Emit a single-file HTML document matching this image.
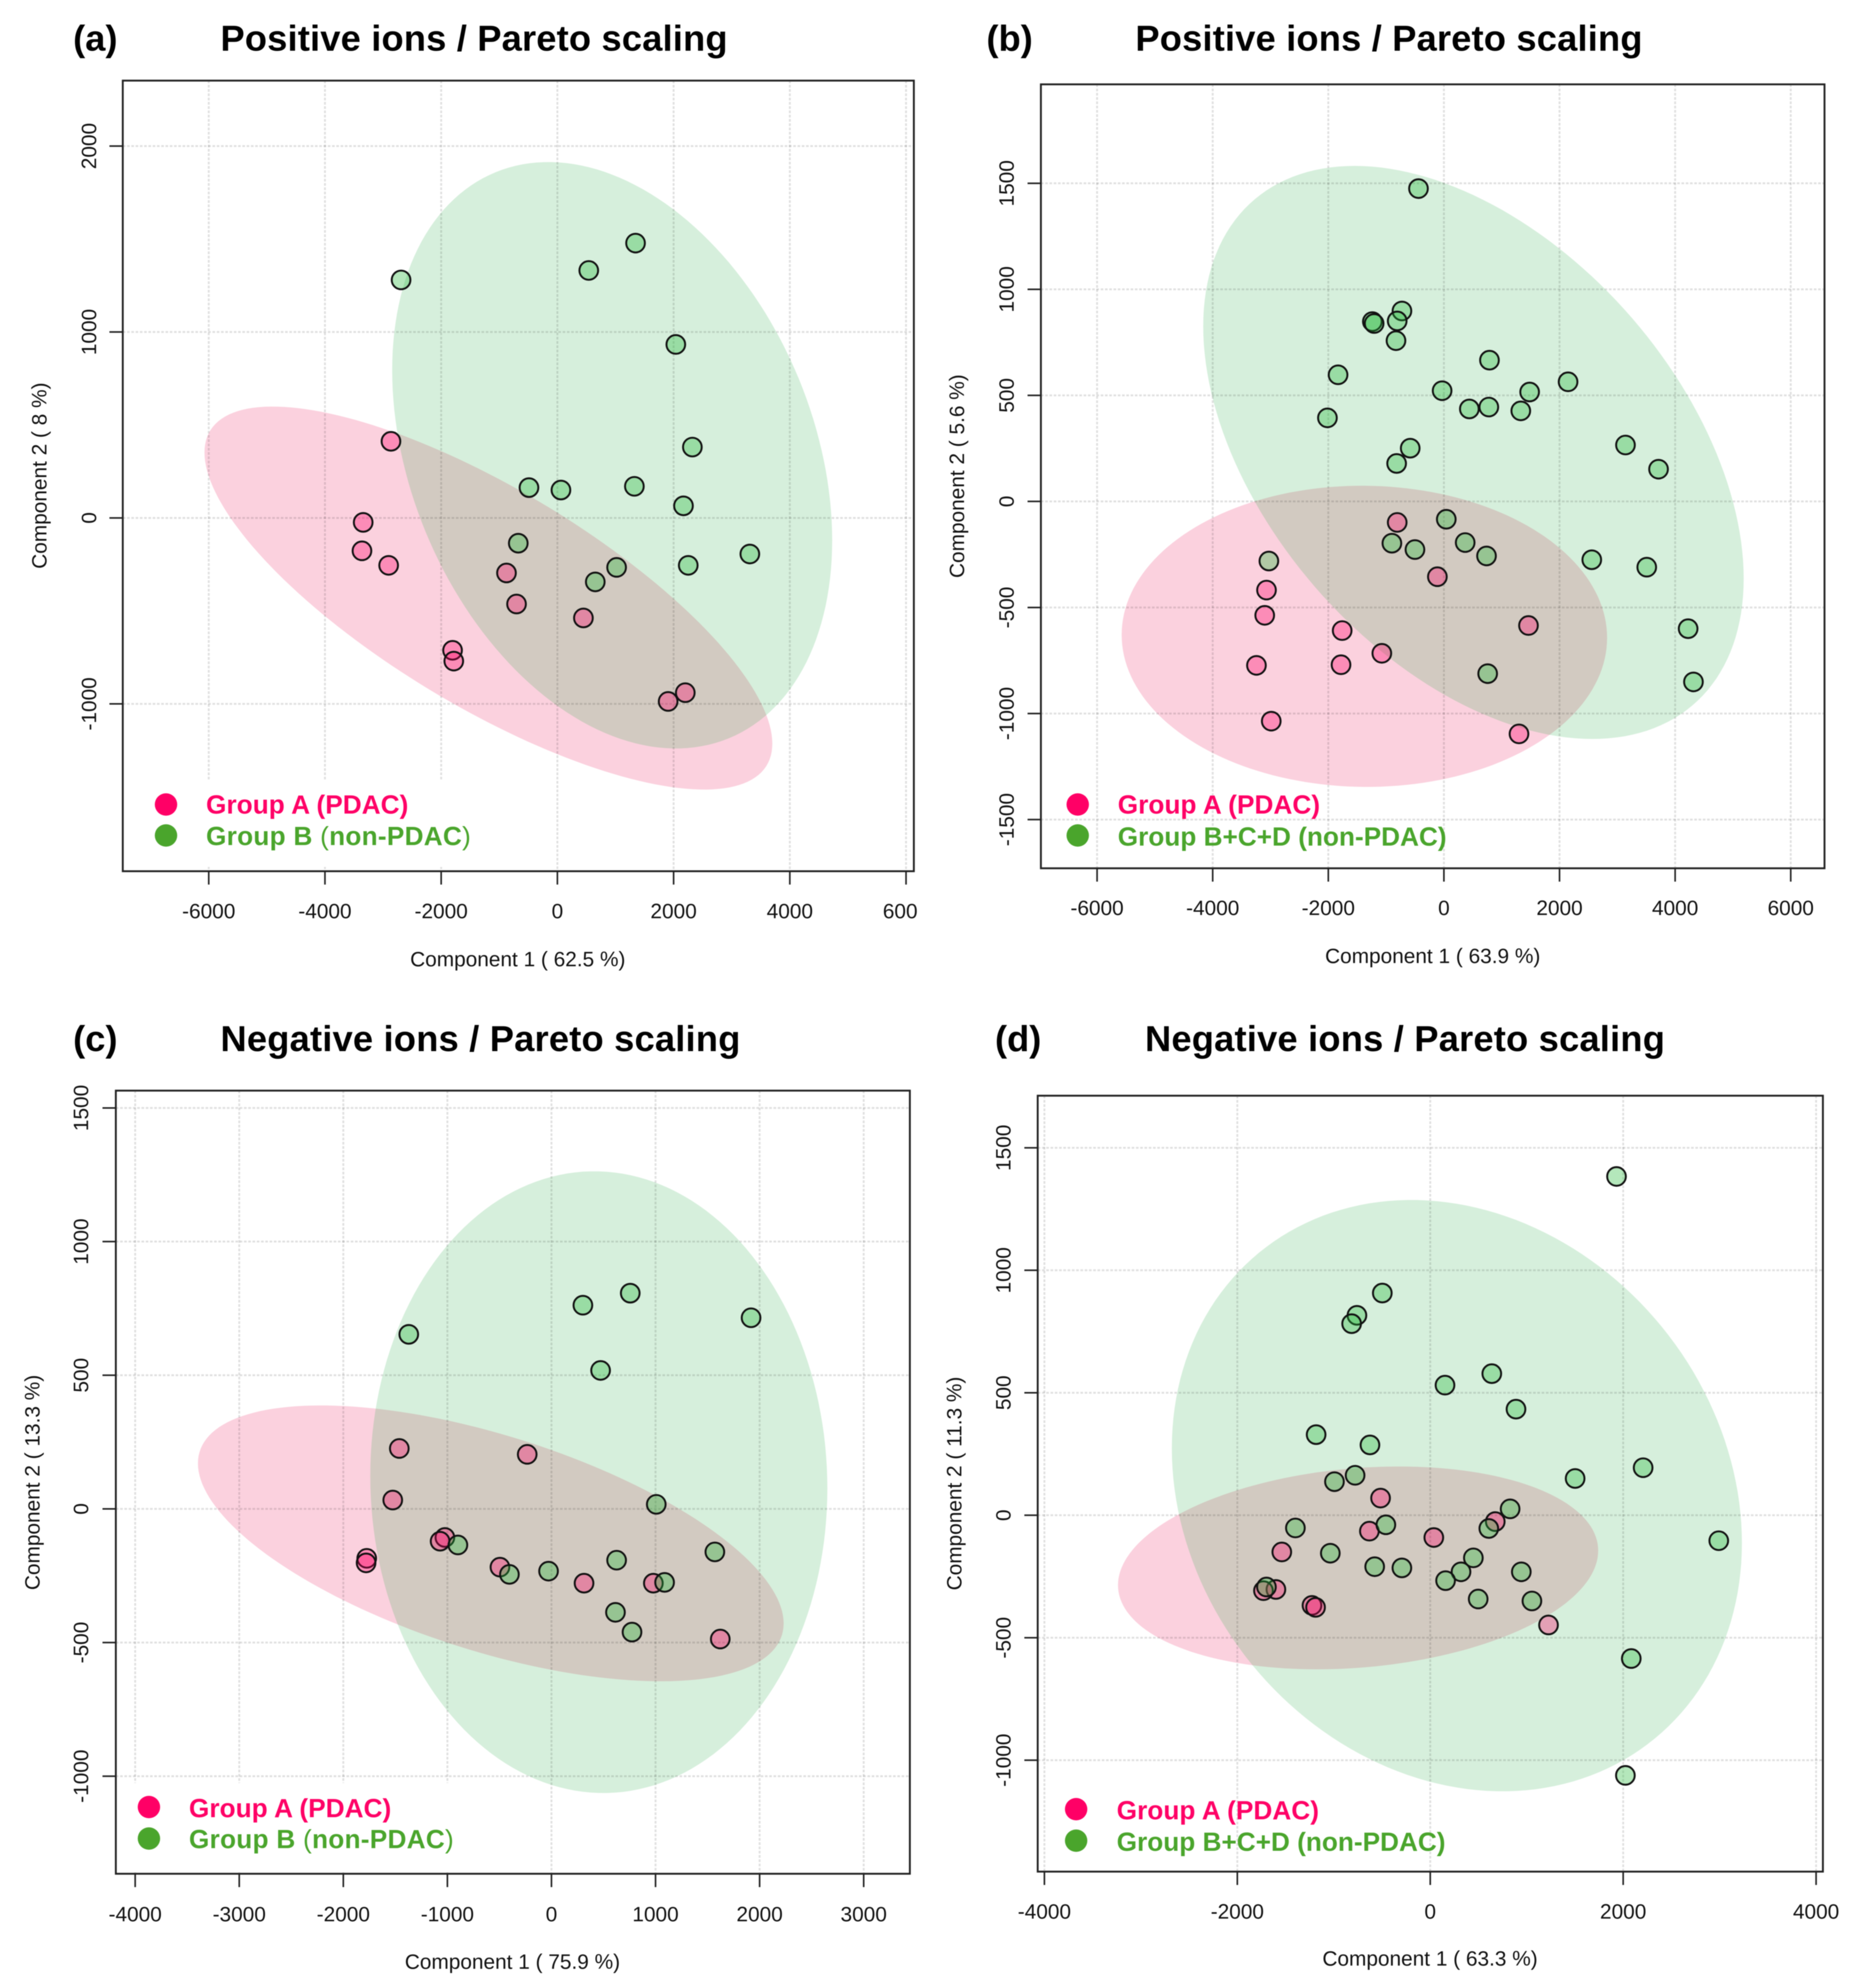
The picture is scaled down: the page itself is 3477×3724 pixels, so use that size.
<!DOCTYPE html>
<html lang="en">
<head>
<meta charset="utf-8">
<title>PCA score plots – Pareto scaling</title>
<style>
html,body{margin:0;padding:0;background:#fff;}
svg{display:block;filter:blur(0.8px);}
text{font-family:"Liberation Sans",sans-serif;fill:#111;}
.title{font-size:68px;font-weight:700;fill:#000;}
.tick{font-size:39px;}
.axis-title{font-size:39px;text-anchor:middle;}
.legend{font-size:49px;font-weight:700;}
.pink{fill:#ff0066;}
.green{fill:#4aa52c;}
.thin{font-weight:400;}
</style>
</head>
<body>
<svg xmlns="http://www.w3.org/2000/svg" width="3477" height="3724" viewBox="0 0 3477 3724">
<rect width="3477" height="3724" fill="#fff"/>

<g>
  <text class="title" x="137" y="95">(a)</text>
  <text class="title" x="413" y="95" textLength="950">Positive ions / Pareto scaling</text>
  <g id="plot-a"></g>
  <rect x="233" y="1461" width="700" height="163" fill="#fff"/>
  <circle cx="311" cy="1507" r="21" fill="#ff0066"/>
  <circle cx="311" cy="1565" r="21" fill="#4aa52c"/>
  <text class="legend pink" x="386" y="1524" textLength="379">Group A (PDAC)</text>
  <text class="legend green" x="386" y="1583" textLength="496">Group B <tspan class="thin">(</tspan>non-PDAC<tspan class="thin">)</tspan></text>
  <text class="axis-title" x="970" y="1810">Component 1 ( 62.5 %)</text>
  <text class="axis-title" transform="translate(87,891) rotate(-90)">Component 2 ( 8 %)</text>
</g>

<g>
  <text class="title" x="1848" y="95">(b)</text>
  <text class="title" x="2127" y="95" textLength="950">Positive ions / Pareto scaling</text>
  <g id="plot-b"></g>
  <circle cx="2019" cy="1507" r="21" fill="#ff0066"/>
  <circle cx="2019" cy="1565" r="21" fill="#4aa52c"/>
  <text class="legend pink" x="2094" y="1524" textLength="379">Group A (PDAC)</text>
  <text class="legend green" x="2094" y="1584" textLength="616">Group B+C+D (non-PDAC)</text>
  <text class="axis-title" x="2684" y="1804">Component 1 ( 63.9 %)</text>
  <text class="axis-title" transform="translate(1806,892) rotate(-90)">Component 2 ( 5.6 %)</text>
</g>

<g>
  <text class="title" x="137" y="1969">(c)</text>
  <text class="title" x="413" y="1969" textLength="974">Negative ions / Pareto scaling</text>
  <g id="plot-c"></g>
  <rect x="220" y="3340" width="700" height="167" fill="#fff"/>
  <circle cx="279" cy="3385" r="21" fill="#ff0066"/>
  <circle cx="279" cy="3444" r="21" fill="#4aa52c"/>
  <text class="legend pink" x="354" y="3404" textLength="379">Group A (PDAC)</text>
  <text class="legend green" x="354" y="3462" textLength="496">Group B <tspan class="thin">(</tspan>non-PDAC<tspan class="thin">)</tspan></text>
  <text class="axis-title" x="960" y="3688">Component 1 ( 75.9 %)</text>
  <text class="axis-title" transform="translate(74,2777) rotate(-90)">Component 2 ( 13.3 %)</text>
</g>

<g>
  <text class="title" x="1864" y="1969">(d)</text>
  <text class="title" x="2145" y="1969" textLength="974">Negative ions / Pareto scaling</text>
  <g id="plot-d"></g>
  <circle cx="2016" cy="3389" r="21" fill="#ff0066"/>
  <circle cx="2016" cy="3448" r="21" fill="#4aa52c"/>
  <text class="legend pink" x="2092" y="3408" textLength="379">Group A (PDAC)</text>
  <text class="legend green" x="2092" y="3467" textLength="616">Group B+C+D (non-PDAC)</text>
  <text class="axis-title" x="2679" y="3682">Component 1 ( 63.3 %)</text>
  <text class="axis-title" transform="translate(1801,2779) rotate(-90)">Component 2 ( 11.3 %)</text>
</g>
</svg>

<script>
// ---------- Panel (a) data ----------
const aXTicks = [-6000, -4000, -2000, 0, 2000, 4000, 6000];
const aYTicks = [-1000, 0, 1000, 2000];
const aXTickLabels = ['-6000', '-4000', '-2000', '0', '2000', '4000', '600'];
const aYTickLabels = ['-1000', '0', '1000', '2000'];
const aGroupAX = [-2864, -3342, -3363, -2904, -876, -703, 448, -1804, -1783, 1906, 2201];
const aGroupAY = [412, -24, -177, -255, -296, -463, -538, -712, -770, -987, -940];
const aGroupBX = [-2690, 540, 1345, 2038, 2323, -489, 61, 1325, 2170, -673, 3312, 2252, 1019, 652];
const aGroupBY = [1280, 1331, 1478, 933, 381, 163, 150, 170, 65, -136, -194, -255, -266, -344];
// ellipse: centre x, centre y, half-range x, half-range y, correlation
const aEllipseA = [-1187, -431, 4886, 1030, -0.76];
const aEllipseB = [943, 337, 3786, 1577, -0.29];

// ---------- Panel (b) data ----------
const bXTicks = [-6000, -4000, -2000, 0, 2000, 4000, 6000];
const bYTicks = [-1500, -1000, -500, 0, 500, 1000, 1500];
const bXTickLabels = ['-6000', '-4000', '-2000', '0', '2000', '4000', '6000'];
const bYTickLabels = ['-1500', '-1000', '-500', '0', '500', '1000', '1500'];
const bGroupAX = [-808, -113, -3069, -3100, -1760, 1463, -1074, -3243, -1780, -2987, 1299];
const bGroupAY = [-99, -355, -418, -537, -609, -585, -716, -773, -770, -1036, -1096];
const bGroupBX = [-440, -726, -1238, -1207, -808, -829, -1831, 788, -31, 1483, 2148, 440, 777, 1330, -2015, -583, -818, 3141, 3713, 41, 368, -900, -501, 737, -3028, 2558, 3509, 4225, 4317, 757];
const bGroupBY = [1475, 898, 848, 839, 851, 758, 597, 666, 522, 516, 564, 436, 445, 427, 394, 251, 179, 266, 152, -84, -194, -197, -227, -257, -281, -275, -310, -600, -851, -812];
const bEllipseA = [-1376, -636, 4199, 710, -0.01];
const bEllipseB = [511, 231, 4675, 1351, -0.44];

// ---------- Panel (c) data ----------
const cXTicks = [-4000, -3000, -2000, -1000, 0, 1000, 2000, 3000];
const cYTicks = [-1000, -500, 0, 500, 1000, 1500];
const cXTickLabels = ['-4000', '-3000', '-2000', '-1000', '0', '1000', '2000', '3000'];
const cYTickLabels = ['-1000', '-500', '0', '500', '1000', '1500'];
const cGroupAX = [-1462, -233, -1525, -1024, -1070, -1775, -1781, -495, 313, 979, 1622];
const cGroupAY = [226, 204, 33, -107, -121, -185, -202, -218, -278, -278, -487];
const cGroupBX = [-1371, 302, 757, 1918, 472, 1007, -899, -404, -28, 626, 1570, 1087, 615, 774];
const cGroupBY = [653, 762, 807, 715, 518, 17, -135, -245, -233, -192, -161, -275, -387, -461];
const cEllipseA = [-583, -129, 2814, 516, -0.58];
const cEllipseB = [455, 100, 2196, 1163, -0.02];

// ---------- Panel (d) data ----------
const dXTicks = [-4000, -2000, 0, 2000, 4000];
const dYTicks = [-1000, -500, 0, 500, 1000, 1500];
const dXTickLabels = ['-4000', '-2000', '0', '2000', '4000'];
const dYTickLabels = ['-1000', '-500', '0', '500', '1000', '1500'];
const dGroupAX = [-515, -631, 37, 674, -1539, -1600, -1729, -1226, -1189, 1226];
const dGroupAY = [70, -65, -91, -26, -150, -303, -308, -368, -376, -448];
const dGroupBX = [1931, -497, -760, -815, 638, 153, 889, -1183, -625, -779, -993, 1502, 2207, 828, 607, -460, -1398, -1036, -576, -294, 447, 319, 159, 944, 497, 1054, -1698, 2991, 2084, 2023];
const dGroupBY = [1383, 907, 816, 782, 578, 531, 433, 329, 287, 163, 137, 150, 194, 26, -54, -39, -52, -155, -210, -215, -174, -231, -267, -231, -342, -350, -293, -104, -585, -1062];
const dEllipseA = [-748, -215, 2489, 414, 0.17];
const dEllipseB = [276, 80, 2955, 1207, -0.16];

// ---------- Rendering ----------
const SVG_NS = 'http://www.w3.org/2000/svg';
function make(parent, tag, attrs, text) {
  const node = document.createElementNS(SVG_NS, tag);
  for (const k in attrs) node.setAttribute(k, attrs[k]);
  if (text !== undefined) node.textContent = text;
  parent.appendChild(node);
  return node;
}

function drawPanel(id, frame, xTicks, xLabels, yTicks, yLabels, ellA, ellB, ax, ay, bx, by) {
  const root = document.getElementById('plot-' + id);
  const xScale = function (v) { return frame.x0 + v * frame.kx; };
  const yScale = function (v) { return frame.y0 - v * frame.ky; };

  function ellipsePath(p) {
    const phi = Math.acos(p[4]);
    let d = '';
    for (let i = 0; i < 180; i++) {
      const t = i / 180 * 2 * Math.PI;
      const px = xScale(p[0] + p[2] * Math.cos(t));
      const py = yScale(p[1] + p[3] * Math.cos(t + phi));
      d += (i ? 'L' : 'M') + px.toFixed(1) + ' ' + py.toFixed(1);
    }
    return d + 'Z';
  }

  const pinkEllipse = make(root, 'path', { d: ellipsePath(ellA), fill: 'rgba(232,10,80,0.19)' });
  
  
  const greenEllipse = make(root, 'path', { d: ellipsePath(ellB), fill: 'rgba(50,175,80,0.2)' });
  
  

  const gridStyle = { stroke: 'rgba(0,0,0,0.12)', 'stroke-width': 3.5, 'stroke-dasharray': '5 3', fill: 'none' };
  xTicks.forEach(function (v) {
    const line = make(root, 'line', Object.assign({ x1: xScale(v), x2: xScale(v), y1: frame.top, y2: frame.bottom }, gridStyle));
    
    
  });
  yTicks.forEach(function (v) {
    const line = make(root, 'line', Object.assign({ x1: frame.left, x2: frame.right, y1: yScale(v), y2: yScale(v) }, gridStyle));
    
    
  });

  const box = make(root, 'rect', { x: frame.left, y: frame.top, width: frame.right - frame.left, height: frame.bottom - frame.top, fill: 'none', stroke: '#222', 'stroke-width': 3.5 });
  
  

  xTicks.forEach(function (v, i) {
    const tick = make(root, 'line', { x1: xScale(v), x2: xScale(v), y1: frame.bottom, y2: frame.bottom + 25, stroke: '#222', 'stroke-width': 3 });
    
    
    const shift = xLabels[i].length === 3 && v === 6000 ? -11 : 0;
    const label = make(root, 'text', { class: 'tick', x: xScale(v) + shift, y: frame.xLabelY, 'text-anchor': 'middle' }, xLabels[i]);
    
    
  });
  yTicks.forEach(function (v, i) {
    const tick = make(root, 'line', { x1: frame.left - 25, x2: frame.left, y1: yScale(v), y2: yScale(v), stroke: '#222', 'stroke-width': 3 });
    
    
    const label = make(root, 'text', { class: 'tick', transform: 'translate(' + frame.yLabelX + ',' + yScale(v) + ') rotate(-90)', 'text-anchor': 'middle' }, yLabels[i]);
    
    
  });

  const pointStyle = { r: 17.5, 'stroke-width': 3.6, stroke: '#111' };
  ax.forEach(function (v, i) {
    const point = make(root, 'circle', Object.assign({ cx: xScale(v), cy: yScale(ay[i]), fill: 'rgba(255,0,102,0.33)' }, pointStyle));
    
    
  });
  bx.forEach(function (v, i) {
    const point = make(root, 'circle', Object.assign({ cx: xScale(v), cy: yScale(by[i]), fill: 'rgba(40,185,60,0.35)' }, pointStyle));
    
    
  });
}

drawPanel('a',
  { x0: 1044.2, kx: 0.10886, y0: 970.2, ky: 0.3483, left: 230, right: 1712, top: 151, bottom: 1632, xLabelY: 1720, yLabelX: 180 },
  aXTicks, aXTickLabels, aYTicks, aYTickLabels, aEllipseA, aEllipseB, aGroupAX, aGroupAY, aGroupBX, aGroupBY);
drawPanel('b',
  { x0: 2705, kx: 0.10829, y0: 939.3, ky: 0.3973, left: 1950, right: 3418, top: 158, bottom: 1626.5, xLabelY: 1714, yLabelX: 1899 },
  bXTicks, bXTickLabels, bYTicks, bYTickLabels, bEllipseA, bEllipseB, bGroupAX, bGroupAY, bGroupBX, bGroupBY);
drawPanel('c',
  { x0: 1033.1, kx: 0.19497, y0: 2826.5, ky: 0.5007, left: 217, right: 1704.5, top: 2043, bottom: 3510, xLabelY: 3599, yLabelX: 165 },
  cXTicks, cXTickLabels, cYTicks, cYTickLabels, cEllipseA, cEllipseB, cGroupAX, cGroupAY, cGroupBX, cGroupBY);
drawPanel('d',
  { x0: 2679.4, kx: 0.18071, y0: 2838.4, ky: 0.45888, left: 1944, right: 3415, top: 2052.5, bottom: 3506, xLabelY: 3594, yLabelX: 1893 },
  dXTicks, dXTickLabels, dYTicks, dYTickLabels, dEllipseA, dEllipseB, dGroupAX, dGroupAY, dGroupBX, dGroupBY);
</script>
</body>
</html>
